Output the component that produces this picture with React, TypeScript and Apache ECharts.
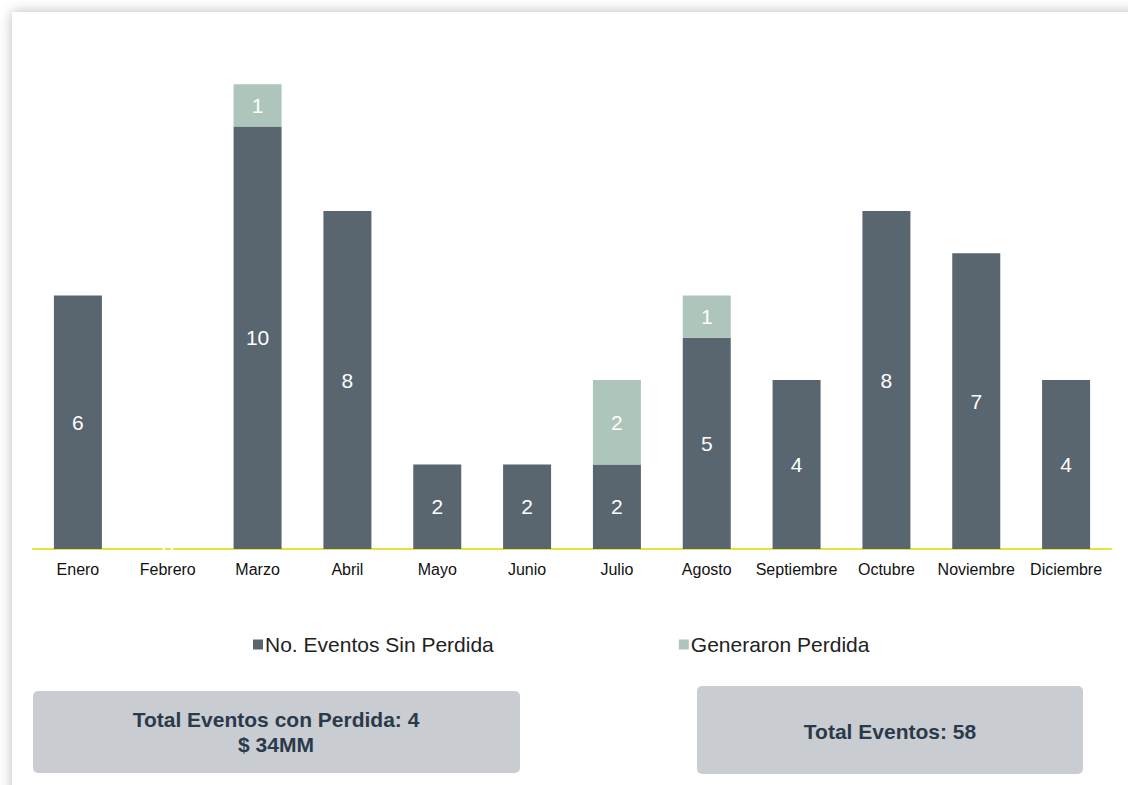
import React, { useEffect, useRef } from "react";
import * as echarts from "echarts";

const months = ["Enero", "Febrero", "Marzo", "Abril", "Mayo", "Junio", "Julio", "Agosto", "Septiembre", "Octubre", "Noviembre", "Diciembre"];
const sinPerdida = [6, 0, 10, 8, 2, 2, 2, 5, 4, 8, 7, 4];
const generaronPerdida = [0, 0, 1, 0, 0, 0, 2, 1, 0, 0, 0, 0];
const seriesNames = ["No. Eventos Sin Perdida", "Generaron Perdida"];
const boxTextLeft = "Total Eventos con Perdida: 4\n$ 34MM";
const boxTextRight = "Total Eventos: 58";

export default function App() {
  const ref = useRef<HTMLDivElement>(null);
  useEffect(() => {
    const chart = echarts.init(ref.current!, null, { renderer: "svg" });
    const font = "Liberation Sans";
    chart.setOption({
      animation: false,
      textStyle: { fontFamily: font },
      grid: { left: 33, right: 17, top: 42, bottom: 236 },
      legend: {
        left: 248,
        top: 629,
        itemWidth: 10,
        itemHeight: 10,
        itemGap: 185,
        icon: "rect",
        textStyle: { fontSize: 21, color: "#222", fontFamily: font, padding: [0, 0, 0, -3] },
        data: seriesNames,
      },
      xAxis: {
        type: "category",
        data: months,
        axisLine: { lineStyle: { color: "#E3E33C", width: 2 } },
        axisTick: { show: false },
        axisLabel: { color: "#111", fontSize: 16, margin: 12, interval: 0, fontFamily: font },
      },
      yAxis: { type: "value", min: 0, max: 12, show: false, splitLine: { show: false } },
      series: [
        {
          name: seriesNames[0],
          type: "bar",
          stack: "a",
          barWidth: 48,
          data: sinPerdida,
          itemStyle: { color: "#59656F" },
          label: { show: true, position: "inside", color: "#fff", fontSize: 21, fontFamily: font },
        },
        {
          name: seriesNames[1],
          type: "bar",
          stack: "a",
          barWidth: 48,
          data: generaronPerdida,
          itemStyle: { color: "#ADC5BA" },
          label: {
            show: true,
            position: "inside",
            color: "#fff",
            fontSize: 21,
            fontFamily: font,
            formatter: (p: any) => (p.value ? String(p.value) : ""),
          },
        },
      ],
      graphic: [
        {
          type: "rect",
          shape: { x: 33, y: 691, width: 487, height: 82, r: 5 },
          style: { fill: "#C9CCD1" },
        },
        {
          type: "text",
          x: 276,
          y: 732,
          style: {
            text: boxTextLeft,
            fill: "#2B3A4A",
            fontFamily: font,
            fontWeight: "bold",
            fontSize: 21,
            align: "center",
            verticalAlign: "middle",
            lineHeight: 25,
          },
        },
        {
          type: "rect",
          shape: { x: 697, y: 686, width: 386, height: 88, r: 5 },
          style: { fill: "#C9CCD1" },
        },
        {
          type: "text",
          x: 890,
          y: 731,
          style: {
            text: boxTextRight,
            fill: "#2B3A4A",
            fontFamily: font,
            fontWeight: "bold",
            fontSize: 21,
            align: "center",
            verticalAlign: "middle",
          },
        },
      ],
    });
    return () => chart.dispose();
  }, []);
  return (
    <div style={{ position: "fixed", left: 0, top: 0, width: 1128, height: 785, background: "#fff", overflow: "hidden" }}>
      <div
        style={{
          position: "absolute",
          left: 12,
          top: 12,
          width: 1140,
          height: 800,
          background: "#fff",
          boxShadow: "0 0 12px rgba(0,0,0,0.28)",
        }}
      />
      <div ref={ref} style={{ position: "absolute", left: 0, top: 0, width: 1128, height: 785 }} />
    </div>
  );
}
